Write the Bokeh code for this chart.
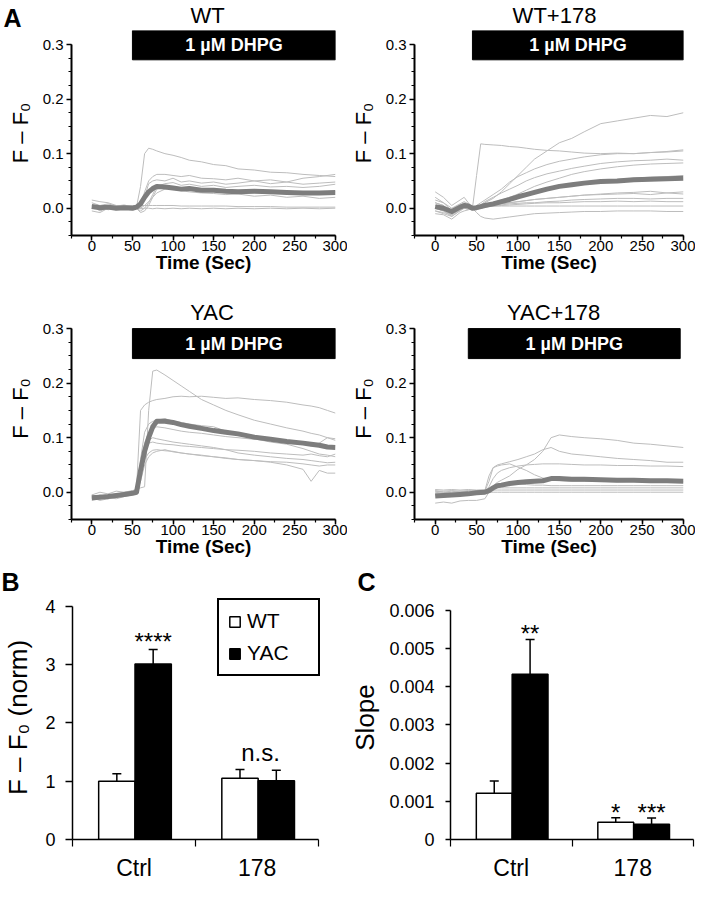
from bokeh.plotting import figure
from bokeh.layouts import row, column
from bokeh.models import (Range1d, SingleIntervalTicker, FixedTicker, Whisker, TeeHead,
                          ColumnDataSource, PrintfTickFormatter, Legend, LegendItem)
from bokeh.core.properties import value
from bokeh.embed import file_html
from bokeh.resources import INLINE

FONT = "Liberation Sans"
TRACE_COLOR = "#bdbdbd"
MEAN_COLOR = "#7d7d7d"

# ---------------- Panel A data (F - F0 traces) ----------------
WT_T = [0, 10, 20, 30, 40, 50, 55, 60, 65, 70, 75, 80, 90, 100, 110, 120,
        135, 150, 165, 180, 200, 220, 240, 260, 280, 300]
WT_MEAN = [0.003, 0.001, 0.002, 0.000, 0.001, 0.000, 0.002, 0.008, 0.020, 0.030, 0.036, 0.040,
           0.039, 0.037, 0.035, 0.036, 0.033, 0.033, 0.031, 0.030,
           0.031, 0.030, 0.029, 0.028, 0.028, 0.029]
WT_TRACES = [
    [0.015, 0.012, 0.010, 0.005, 0.002, 0.000, 0.002, 0.040, 0.100, 0.110, 0.108, 0.105,
     0.100, 0.097, 0.093, 0.088, 0.085, 0.080, 0.078, 0.072, 0.070, 0.066, 0.065, 0.062, 0.060, 0.058],
    [0.005, -0.005, 0.000, 0.003, 0.000, 0.002, 0.000, 0.005, 0.030, 0.050, 0.058, 0.062,
     0.062, 0.060, 0.058, 0.060, 0.055, 0.054, 0.052, 0.055, 0.050, 0.052, 0.048, 0.055, 0.058, 0.062],
    [-0.005, -0.008, 0.000, -0.002, 0.003, 0.000, 0.002, 0.000, 0.020, 0.045, 0.050, 0.052,
     0.050, 0.055, 0.048, 0.050, 0.046, 0.048, 0.044, 0.046, 0.050, 0.045, 0.048, 0.044, 0.046, 0.048],
    [0.010, 0.005, 0.008, 0.004, 0.006, 0.002, 0.000, -0.005, 0.000, 0.010, 0.025, 0.040,
     0.045, 0.047, 0.042, 0.044, 0.040, 0.042, 0.038, 0.040, 0.042, 0.039, 0.040, 0.038, 0.040, 0.044],
    [0.000, 0.005, -0.003, 0.002, 0.000, -0.002, 0.000, -0.008, -0.005, 0.005, 0.020, 0.035,
     0.040, 0.035, 0.032, 0.030, 0.028, 0.027, 0.025, 0.026, 0.022, 0.024, 0.020, 0.022, 0.018, 0.020],
    [0.005, 0.005, 0.005, 0.005, 0.005, 0.005, 0.005, 0.005, 0.005, 0.005, 0.005, 0.005,
     0.005, 0.005, 0.004, 0.004, 0.004, 0.004, 0.004, 0.003, 0.003, 0.003, 0.002, 0.002, 0.002, 0.002],
    [0.000, -0.001, 0.000, -0.001, 0.000, -0.001, 0.000, -0.001, 0.000, 0.000, -0.001, 0.000,
     -0.001, 0.000, -0.001, 0.000, -0.001, 0.000, -0.001, 0.000, -0.001, 0.000, -0.001, 0.000, -0.001, 0.000],
    [0.003, 0.000, 0.005, 0.002, 0.000, 0.001, 0.000, 0.000, 0.005, 0.012, 0.020, 0.028,
     0.035, 0.038, 0.036, 0.037, 0.034, 0.032, 0.033, 0.030, 0.031, 0.029, 0.030, 0.028, 0.027, 0.030],
]

WT178_T = [0, 10, 20, 30, 35, 40, 45, 50, 55, 60, 70, 80, 90, 100, 110, 120,
           135, 150, 165, 180, 200, 220, 240, 260, 280, 300]
WT178_MEAN = [0.003, 0.000, -0.006, 0.002, 0.005, 0.004, 0.000, 0.001, 0.003, 0.005, 0.008, 0.012,
              0.016, 0.021, 0.025, 0.029, 0.035, 0.040, 0.043, 0.046,
              0.049, 0.050, 0.052, 0.053, 0.054, 0.055]
WT178_TRACES = [
    [0.010, 0.005, -0.010, 0.000, 0.005, 0.003, 0.000, 0.060, 0.118, 0.117, 0.116, 0.115,
     0.113, 0.112, 0.110, 0.108, 0.106, 0.105, 0.103, 0.101, 0.100, 0.101, 0.100, 0.102, 0.103, 0.105],
    [0.000, -0.005, -0.012, 0.000, 0.006, 0.003, 0.000, 0.002, 0.005, 0.010, 0.018, 0.030,
     0.045, 0.060, 0.075, 0.090, 0.105, 0.120, 0.128, 0.140, 0.155, 0.160, 0.165, 0.170, 0.168, 0.175],
    [0.030, 0.020, 0.005, 0.015, 0.020, 0.010, 0.000, 0.005, 0.010, 0.015, 0.025, 0.035,
     0.048, 0.058, 0.065, 0.072, 0.080, 0.086, 0.090, 0.094, 0.098, 0.100, 0.100, 0.102, 0.104, 0.107],
    [0.020, 0.010, -0.005, 0.005, 0.010, 0.005, 0.000, 0.002, 0.006, 0.012, 0.020, 0.028,
     0.035, 0.042, 0.050, 0.056, 0.063, 0.068, 0.073, 0.077, 0.082, 0.085, 0.087, 0.088, 0.090, 0.088],
    [-0.005, -0.010, -0.015, -0.005, 0.000, -0.002, 0.000, 0.000, 0.003, 0.006, 0.010, 0.015,
     0.020, 0.026, 0.033, 0.040, 0.048, 0.055, 0.062, 0.067, 0.072, 0.076, 0.079, 0.081, 0.082, 0.083],
    [0.010, 0.005, -0.008, 0.002, 0.006, 0.004, 0.000, 0.000, 0.002, 0.004, 0.008, 0.012,
     0.016, 0.020, 0.025, 0.030, 0.036, 0.040, 0.044, 0.047, 0.050, 0.053, 0.055, 0.057, 0.058, 0.060],
    [-0.005, -0.008, -0.012, -0.003, 0.002, 0.000, 0.000, -0.002, 0.000, 0.002, 0.005, 0.008,
     0.010, 0.012, 0.014, 0.016, 0.018, 0.020, 0.022, 0.024, 0.026, 0.028, 0.029, 0.031, 0.028, 0.030],
    [0.005, 0.000, -0.010, 0.000, 0.004, 0.002, 0.000, 0.000, 0.000, 0.002, 0.004, 0.006,
     0.008, 0.009, 0.010, 0.010, 0.012, 0.013, 0.015, 0.016, 0.017, 0.018, 0.018, 0.017, 0.018, 0.018],
    [0.000, -0.005, -0.015, -0.004, 0.000, -0.002, 0.000, 0.000, 0.002, 0.003, 0.004, 0.005,
     0.006, 0.007, 0.008, 0.009, 0.010, 0.010, 0.011, 0.012, 0.012, 0.013, 0.012, 0.013, 0.012, 0.012],
    [0.000, -0.003, -0.012, -0.002, 0.002, 0.000, 0.000, 0.003, 0.004, 0.004, 0.004, 0.004,
     0.004, 0.004, 0.004, 0.004, 0.004, 0.004, 0.004, 0.004, 0.004, 0.004, 0.004, 0.004, 0.004, 0.004],
    [-0.010, -0.012, -0.020, -0.008, -0.005, -0.003, 0.000, -0.008, -0.015, -0.018, -0.020, -0.018,
     -0.016, -0.014, -0.012, -0.010, -0.009, -0.008, -0.007, -0.006, -0.006, -0.005, -0.005, -0.005, -0.006, -0.006],
    [0.015, 0.010, 0.000, 0.008, 0.012, 0.008, 0.000, 0.000, 0.002, 0.004, 0.006, 0.008,
     0.010, 0.012, 0.014, 0.016, 0.018, 0.020, 0.022, 0.024, 0.025, 0.026, 0.027, 0.025, 0.028, 0.026],
]

YAC_T = [0, 10, 20, 30, 40, 50, 55, 60, 65, 70, 75, 80, 90, 100, 110, 120,
         135, 150, 165, 180, 200, 220, 240, 260, 270, 280, 290, 300]
YAC_MEAN = [-0.010, -0.009, -0.008, -0.006, -0.004, -0.002, 0.000, 0.040, 0.075, 0.100, 0.120, 0.130,
            0.130, 0.128, 0.124, 0.121, 0.117, 0.113, 0.110, 0.107,
            0.101, 0.097, 0.093, 0.090, 0.088, 0.086, 0.083, 0.082]
YAC_TRACES = [
    [-0.010, -0.005, -0.008, -0.004, 0.000, 0.002, 0.005, 0.008, 0.010, 0.150, 0.222, 0.224,
     0.215, 0.205, 0.195, 0.185, 0.170, 0.160, 0.150, 0.142, 0.132, 0.125, 0.118, 0.112, 0.108, 0.105, 0.100, 0.095],
    [-0.005, 0.000, -0.003, 0.002, 0.000, 0.003, 0.005, 0.150, 0.160, 0.165, 0.168, 0.170,
     0.172, 0.175, 0.176, 0.175, 0.176, 0.174, 0.172, 0.173, 0.170, 0.168, 0.165, 0.160, 0.158, 0.155, 0.150, 0.145],
    [-0.012, -0.010, -0.012, -0.008, -0.005, -0.003, 0.000, 0.060, 0.110, 0.125, 0.130, 0.132,
     0.135, 0.130, 0.128, 0.125, 0.122, 0.120, 0.112, 0.105, 0.098, 0.092, 0.088, 0.080, 0.075, 0.070, 0.068, 0.065],
    [-0.015, -0.012, -0.010, -0.012, -0.008, -0.005, -0.002, 0.050, 0.090, 0.110, 0.115, 0.120,
     0.118, 0.115, 0.112, 0.110, 0.108, 0.105, 0.102, 0.100, 0.097, 0.095, 0.092, 0.088, 0.085, 0.090, 0.100, 0.098],
    [-0.008, -0.010, -0.012, -0.006, -0.004, -0.002, 0.000, 0.040, 0.080, 0.095, 0.100, 0.098,
     0.095, 0.092, 0.090, 0.088, 0.085, 0.082, 0.078, 0.072, 0.068, 0.065, 0.062, 0.060, 0.058, 0.056, 0.054, 0.055],
    [-0.010, -0.015, -0.012, -0.010, -0.006, -0.004, -0.002, 0.030, 0.060, 0.072, 0.077, 0.078,
     0.076, 0.075, 0.072, 0.070, 0.067, 0.065, 0.062, 0.060, 0.058, 0.056, 0.055, 0.052, 0.050, 0.048, 0.050, 0.050],
    [-0.012, -0.008, -0.010, -0.008, -0.005, -0.003, -0.001, 0.020, 0.050, 0.065, 0.072, 0.075,
     0.078, 0.074, 0.072, 0.070, 0.068, 0.065, 0.063, 0.060, 0.058, 0.055, 0.050, 0.042, 0.020, 0.040, 0.035, 0.035],
    [-0.005, -0.008, -0.006, -0.004, -0.002, 0.000, 0.002, 0.050, 0.085, 0.090, 0.092, 0.090,
     0.088, 0.087, 0.085, 0.084, 0.082, 0.080, 0.078, 0.077, 0.075, 0.072, 0.070, 0.068, 0.070, 0.067, 0.065, 0.070],
]

YAC178_T = [0, 10, 20, 30, 40, 50, 60, 65, 70, 75, 80, 90, 100, 110, 120, 130,
            140, 150, 165, 180, 200, 220, 240, 260, 280, 300]
YAC178_MEAN = [-0.007, -0.006, -0.005, -0.004, -0.003, -0.001, 0.000, 0.003, 0.008, 0.012, 0.013, 0.016,
               0.018, 0.019, 0.020, 0.021, 0.025, 0.025, 0.024, 0.024,
               0.023, 0.022, 0.022, 0.021, 0.021, 0.020]
YAC178_TRACES = [
    [0.002, 0.000, -0.002, 0.000, 0.002, 0.000, 0.002, 0.005, 0.012, 0.018, 0.022, 0.030,
     0.042, 0.050, 0.060, 0.075, 0.100, 0.105, 0.102, 0.100, 0.098, 0.095, 0.090, 0.088, 0.085, 0.082],
    [0.000, -0.002, 0.000, 0.002, 0.000, 0.001, 0.002, 0.020, 0.045, 0.050, 0.052, 0.056,
     0.060, 0.065, 0.070, 0.078, 0.082, 0.075, 0.070, 0.068, 0.065, 0.062, 0.060, 0.058, 0.055, 0.055],
    [0.003, 0.000, 0.002, 0.000, -0.002, 0.000, 0.003, 0.030, 0.045, 0.048, 0.050, 0.052,
     0.046, 0.040, 0.032, 0.026, 0.022, 0.021, 0.020, 0.020, 0.020, 0.019, 0.020, 0.019, 0.020, 0.019],
    [-0.005, -0.004, -0.003, -0.002, -0.002, 0.000, 0.002, 0.010, 0.025, 0.035, 0.040, 0.045,
     0.048, 0.050, 0.051, 0.052, 0.052, 0.052, 0.051, 0.050, 0.050, 0.049, 0.049, 0.048, 0.048, 0.047],
    [-0.020, -0.018, -0.020, -0.016, -0.015, -0.015, -0.012, 0.000, 0.008, 0.010, 0.012, 0.014,
     0.015, 0.014, 0.013, 0.013, 0.012, 0.012, 0.012, 0.012, 0.012, 0.012, 0.012, 0.012, 0.012, 0.012],
    [0.005, 0.004, 0.005, 0.004, 0.005, 0.004, 0.005, 0.006, 0.007, 0.008, 0.008, 0.008,
     0.008, 0.008, 0.008, 0.008, 0.008, 0.008, 0.008, 0.008, 0.008, 0.008, 0.008, 0.008, 0.008, 0.008],
    [0.002, 0.002, 0.003, 0.002, 0.003, 0.003, 0.003, 0.003, 0.004, 0.004, 0.004, 0.004,
     0.004, 0.004, 0.004, 0.004, 0.004, 0.004, 0.004, 0.004, 0.004, 0.004, 0.004, 0.004, 0.004, 0.004],
    [-0.002, -0.002, -0.002, -0.001, -0.001, -0.001, 0.000, 0.000, 0.000, 0.000, 0.000, 0.000,
     0.000, 0.000, 0.000, 0.000, 0.000, 0.000, 0.000, 0.000, 0.000, 0.000, 0.000, 0.000, 0.000, 0.000],
]

PANEL_TITLES = ["WT", "WT+178", "YAC", "YAC+178"]
PANEL_LETTERS = ["A", "B", "C"]
DHPG_START = [50, 45, 50, 40]
DHPG_END = [300, 300, 300, 296]
TIME_TICKS_INTERVAL = 50
FF0_TICKS_INTERVAL = 0.1

# ---------------- Panels B and C data ----------------
CATS = ["Ctrl", "178"]
GROUPS = ["WT", "YAC"]
B_WT = [1.00, 1.05]
B_WT_ERR = [0.13, 0.15]
B_YAC = [3.01, 1.01]
B_YAC_ERR = [0.25, 0.18]
B_TICKS = [0, 1, 2, 3, 4]
B_ANNOT = ["****", "n.s."]

C_WT = [0.00121, 0.00045]
C_WT_ERR = [0.00032, 0.00012]
C_YAC = [0.00433, 0.00040]
C_YAC_ERR = [0.00091, 0.00016]
C_TICKS = [0, 0.001, 0.002, 0.003, 0.004, 0.005, 0.006]
C_ANNOT_WT = ["", "*"]
C_ANNOT_YAC = ["**", "***"]

WT_OFF, YAC_OFF, BAR_W = 0.36, 0.655, 0.295


def clean(p):
    p.outline_line_color = None
    p.xgrid.grid_line_color = None
    p.ygrid.grid_line_color = None
    p.background_fill_color = "white"
    p.border_fill_color = "white"


def style_axis(ax, lw, tick_out, minor_out, label_size, standoff):
    ax.axis_line_color = "black"
    ax.axis_line_width = lw
    ax.major_tick_line_color = "black"
    ax.minor_tick_line_color = "black"
    ax.major_tick_line_width = 1.5
    ax.minor_tick_line_width = 1.2
    ax.major_tick_out = tick_out
    ax.major_tick_in = 0
    ax.minor_tick_out = minor_out
    ax.minor_tick_in = 0
    ax.major_label_text_font = FONT
    ax.major_label_text_font_size = label_size
    ax.major_label_text_color = "black"
    ax.major_label_standoff = standoff
    ax.axis_label_text_font = FONT
    ax.axis_label_text_color = "black"


def header(width, height):
    p = figure(frame_width=width, frame_height=height, output_backend="svg",
               toolbar_location=None, x_range=Range1d(0, width), y_range=Range1d(0, height),
               x_axis_type=None, y_axis_type=None, min_border=0,
               min_border_left=0, min_border_right=0, min_border_top=0, min_border_bottom=0)
    clean(p)
    return p


def trace_panel(idx, t, traces, mean, width, height, b_left, b_right, b_top, frame_h,
                y_top, bar_lo, bar_hi, title_x=None, title_y=None):
    p = figure(width=width, height=height, output_backend="svg", toolbar_location=None,
               x_range=Range1d(-25, 300), y_range=Range1d(-0.05, y_top),
               min_border_left=b_left, min_border_right=b_right,
               min_border_top=b_top, min_border_bottom=height - b_top - frame_h)
    clean(p)
    p.multi_line(xs=[t] * len(traces), ys=traces, line_color=TRACE_COLOR, line_width=1)
    p.line(t, mean, line_color=MEAN_COLOR, line_width=5, line_join="round")
    s, e = DHPG_START[idx], DHPG_END[idx]
    p.quad(left=[s], right=[e], bottom=[bar_lo], top=[bar_hi],
           fill_color="black", line_color="black")
    p.text(x=[(s + e) / 2], y=[(bar_lo + bar_hi) / 2], text=["1 µM DHPG"],
           text_color="white", text_font=value(FONT), text_font_size="18px",
           text_font_style="bold", text_align="center", text_baseline="middle")
    if title_x is not None:
        p.text(x=[title_x], y=[title_y], text=[PANEL_TITLES[idx]], text_color="black",
               text_font=value(FONT), text_font_size="22px", text_align="center",
               text_baseline="middle")
    xa, ya = p.xaxis[0], p.yaxis[0]
    xa.ticker = SingleIntervalTicker(interval=TIME_TICKS_INTERVAL, num_minor_ticks=2)
    ya.ticker = SingleIntervalTicker(interval=FF0_TICKS_INTERVAL, num_minor_ticks=4)
    ya.formatter = PrintfTickFormatter(format="%.1f")
    xa.bounds = (-25, 300)
    ya.bounds = (-0.05, 0.300001)
    style_axis(xa, 2, 5, 3, "15px", 0)
    style_axis(ya, 2, 5, 3, "15px", 3)
    xa.axis_label = "Time (Sec)"
    xa.axis_label_text_font_size = "19px"
    xa.axis_label_text_font_style = "bold"
    xa.axis_label_standoff = -2
    ya.axis_label = "F – F₀"
    ya.axis_label_text_font_size = "22px"
    ya.axis_label_text_font_style = "normal"
    ya.axis_label_standoff = 7
    return p


# Header with panel letter A and the titles of the first row
H1 = 30
h1 = header(695, H1)
h1.text(x=[3], y=[H1 - 17], text=[PANEL_LETTERS[0]], text_font=value(FONT),
        text_font_size="25px", text_font_style="bold", text_align="left",
        text_baseline="middle", text_color="black")
h1.text(x=[207, 554], y=[H1 - 14.5, H1 - 14.5], text=PANEL_TITLES[:2], text_font=value(FONT),
        text_font_size="22px", text_align="center", text_baseline="middle",
        text_color="black")

# Row 1
p1 = trace_panel(0, WT_T, WT_TRACES, WT_MEAN, 347, 252, 71, 12, 0, 205,
                 0.3257, 0.272, 0.3257)
p2 = trace_panel(1, WT178_T, WT178_TRACES, WT178_MEAN, 348, 252, 67, 12, 0, 205,
                 0.3257, 0.272, 0.3257)
# Row 2
p3 = trace_panel(2, YAC_T, YAC_TRACES, YAC_MEAN, 347, 284, 71, 12, 15, 222,
                 0.357, 0.245, 0.300, 148, 0.330)
p4 = trace_panel(3, YAC178_T, YAC178_TRACES, YAC178_MEAN, 348, 284, 67, 12, 15, 222,
                 0.357, 0.245, 0.300, 143, 0.330)

# Header with panel letters B and C
H3 = 29
h3 = header(695, H3)
h3.text(x=[1, 357], y=[H3 - 15.5, H3 - 15.5], text=PANEL_LETTERS[1:], text_font=value(FONT),
        text_font_size="25px", text_font_style="bold", text_align="left",
        text_baseline="middle", text_color="black")


def bar_panel(width, height, b_left, b_right, b_top, frame_h, x_end, y_end, y_bound, ticks,
              wt, wt_err, yac, yac_err, ylabel, tick_out, tick_standoff, label_standoff):
    p = figure(width=width, height=height, output_backend="svg", toolbar_location=None,
               x_range=Range1d(0, x_end), y_range=Range1d(0, y_end),
               min_border_left=b_left, min_border_right=b_right,
               min_border_top=b_top, min_border_bottom=height - b_top - frame_h)
    clean(p)
    x_wt = [i + WT_OFF for i in range(len(CATS))]
    x_yac = [i + YAC_OFF for i in range(len(CATS))]
    r_wt = p.vbar(x=x_wt, top=wt, width=BAR_W, fill_color="white",
                  line_color="black", line_width=1.5)
    r_yac = p.vbar(x=x_yac, top=yac, width=BAR_W, fill_color="black",
                   line_color="black", line_width=1.5)
    src = ColumnDataSource(dict(x=x_wt + x_yac, lower=wt + yac,
                                upper=[v + e for v, e in zip(wt + yac, wt_err + yac_err)]))
    p.add_layout(Whisker(source=src, base="x", lower="lower", upper="upper",
                         dimension="height", line_color="black", line_width=1.5,
                         upper_head=TeeHead(size=9, line_color="black", line_width=1.5),
                         lower_head=None))
    xa, ya = p.xaxis[0], p.yaxis[0]
    xa.ticker = FixedTicker(ticks=[i + 0.5 for i in range(len(CATS))],
                            minor_ticks=list(range(len(CATS) + 1)))
    xa.major_label_overrides = {i + 0.5: c for i, c in enumerate(CATS)}
    xa.bounds = (0, len(CATS))
    style_axis(xa, 1.5, 0, 7, "23px", 8)
    ya.ticker = FixedTicker(ticks=ticks)
    ya.bounds = (0, y_bound)
    style_axis(ya, 1.5, tick_out, 0, "18px", tick_standoff)
    ya.axis_label = ylabel
    ya.axis_label_text_font_size = "26px"
    ya.axis_label_text_font_style = "normal"
    ya.axis_label_standoff = label_standoff
    return p, r_wt, r_yac, x_wt, x_yac


# Both bar panels share the same frame (top at the panel top, 244 px tall)
pb, rb_wt, rb_yac, xb_wt, xb_yac = bar_panel(347, 288, 69, 25, 0, 244, 2.03, 4.186, 4, B_TICKS,
                                              B_WT, B_WT_ERR, B_YAC, B_YAC_ERR,
                                              "F – F₀ (norm)", 7, 10, 9)
pb.text(x=[xb_yac[0], (xb_wt[1] + xb_yac[1]) / 2 + 0.02], y=[3.40, 1.49], text=B_ANNOT,
        text_font=value(FONT), text_font_size="24px", text_align="center",
        text_baseline="middle", text_color="black")
legend = Legend(items=[LegendItem(label=GROUPS[0], renderers=[rb_wt]),
                       LegendItem(label=GROUPS[1], renderers=[rb_yac])],
                location=(145, 163), padding=9, margin=0, spacing=8,
                glyph_width=13, glyph_height=13, label_standoff=6, label_width=62,
                label_height=22, label_text_font=FONT, label_text_font_size="21px",
                label_text_color="black", border_line_color="black", border_line_width=2,
                border_line_alpha=1.0,
                background_fill_color="white", background_fill_alpha=1.0)
pb.add_layout(legend, "center")

pc, rc_wt, rc_yac, xc_wt, xc_yac = bar_panel(348, 288, 103, 2, 0, 244, 2, 0.00639, 0.006,
                                              C_TICKS, C_WT, C_WT_ERR, C_YAC, C_YAC_ERR,
                                              "Slope", 5, 11, 6)
pc.yaxis[0].formatter = PrintfTickFormatter(format="%.3f")
pc.yaxis[0].major_label_overrides = {0: "0"}
pc.text(x=xc_yac + xc_wt, y=[0.00540, 0.00072, 0.00072, 0.00072],
        text=C_ANNOT_YAC + C_ANNOT_WT,
        text_font=value(FONT), text_font_size="24px", text_align="center",
        text_baseline="middle", text_color="black")

layout = column(h1, row(p1, p2), row(p3, p4), h3, row(pb, pc))
open("out.html", "w").write(file_html(layout, INLINE))
